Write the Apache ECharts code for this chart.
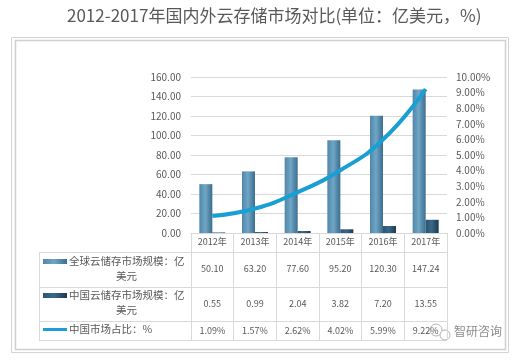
<!DOCTYPE html>
<html>
<head>
<meta charset="utf-8">
<script src="https://cdn.jsdelivr.net/npm/echarts@6/dist/echarts.min.js"></script>
<style>
html,body{margin:0;padding:0;background:#fff;}
#c{width:532px;height:364px;}
</style>
</head>
<body>
<div id="c"></div>
<script>
var years = ['2012年','2013年','2014年','2015年','2016年','2017年'];
var globalMarket = [50.10, 63.20, 77.60, 95.20, 120.30, 147.24];
var chinaMarket = [0.55, 0.99, 2.04, 3.82, 7.20, 13.55];
var chinaShare = [1.09, 1.57, 2.62, 4.02, 5.99, 9.22];
var shareLabels = ['1.09%', '1.57%', '2.62%', '4.02%', '5.99%', '9.22%'];
var legendLine1 = ['全球云储存市场规模：亿', '中国云储存市场规模：亿', '中国市场占比：%'];
var legendLine2 = ['美元', '美元', ''];
var titleText = '2012-2017年国内外云存储市场对比(单位：亿美元，%)';

var FONT = '"Noto Sans CJK SC", "Noto Sans", sans-serif';
var TXT = '#595959';
var GRID = '#d9d9d9';

var globalColor = new echarts.graphic.LinearGradient(0,0,1,0,[
  {offset:0,color:'#4f86aa'},{offset:0.45,color:'#6fa6c6'},{offset:1,color:'#3b6d8e'}]);
var chinaColor = new echarts.graphic.LinearGradient(0,0,1,0,[
  {offset:0,color:'#2c5573'},{offset:0.45,color:'#3a6889'},{offset:1,color:'#1c3a50'}]);
var lineColor = '#1a9fd4';

function valueAxis(offset, fmt) {
  return {
    type: 'category', data: years, position: 'bottom', offset: offset,
    axisLine: {show:false}, axisTick: {show:false},
    axisLabel: {margin: 0, verticalAlign: 'middle', fontSize: 9, color: TXT, fontFamily: FONT,
      formatter: fmt}
  };
}

var chart = echarts.init(document.getElementById('c'));
var option = {
  backgroundColor: '#fff',
  animation: false,
  grid: {left: 191, right: 85, top: 77, bottom: 131},
  xAxis: [
    {
      type: 'category', data: years, position: 'bottom',
      axisLine: {show: true, lineStyle: {color: GRID}},
      axisTick: {show: true, length: 107, lineStyle: {color: GRID}},
      axisLabel: {margin: 4, fontSize: 9, color: TXT, fontFamily: FONT}
    },
    valueAxis(36, function(v, i){ return globalMarket[i].toFixed(2); }),
    valueAxis(71, function(v, i){ return chinaMarket[i].toFixed(2); }),
    valueAxis(98, function(v, i){ return shareLabels[i]; })
  ],
  yAxis: [
    {
      type: 'value', min: 0, max: 160, interval: 20,
      axisLine: {show:false}, axisTick: {show:false},
      axisLabel: {margin: 10, fontSize: 10, color: TXT, fontFamily: FONT,
        formatter: function(v){ return v.toFixed(2); }},
      splitLine: {lineStyle: {color: GRID}}
    },
    {
      type: 'value', min: 0, max: 10, interval: 1,
      axisLine: {show:false}, axisTick: {show:false},
      axisLabel: {margin: 9, fontSize: 10, color: TXT, fontFamily: FONT,
        formatter: function(v){ return v.toFixed(2) + '%'; }},
      splitLine: {show: false}
    }
  ],
  series: [
    {name: 'global', type: 'bar', data: globalMarket, barWidth: 13, barGap: '0%',
      itemStyle: {color: globalColor}},
    {name: 'china', type: 'bar', data: chinaMarket, barWidth: 13, barGap: '0%',
      itemStyle: {color: chinaColor}},
    {name: 'share', type: 'line', yAxisIndex: 1, data: chinaShare, smooth: 0.5,
      showSymbol: false, symbol: 'none', lineStyle: {color: lineColor, width: 4}, z: 5}
  ],
  graphic: [
    {type:'text', left: 67, top: 7, style:{text: titleText, fontSize: 17, fill: TXT, fontFamily: FONT}},
    {type:'rect', shape:{x:11.5,y:37.5,width:497,height:315}, style:{fill:'none', stroke:'#d4d4d4', lineWidth:1}, silent:true},
    {type:'rect', shape:{x:15.5,y:40.5,width:490,height:309}, style:{fill:'none', stroke:'#d0d0d0', lineWidth:1.5}, silent:true},
    // table borders
    {type:'line', shape:{x1:39,y1:252.5,x2:447,y2:252.5}, style:{stroke:GRID,lineWidth:1}},
    {type:'line', shape:{x1:39,y1:287.5,x2:447,y2:287.5}, style:{stroke:GRID,lineWidth:1}},
    {type:'line', shape:{x1:39,y1:321.5,x2:447,y2:321.5}, style:{stroke:GRID,lineWidth:1}},
    {type:'line', shape:{x1:39,y1:340.5,x2:447,y2:340.5}, style:{stroke:GRID,lineWidth:1}},
    {type:'line', shape:{x1:39.5,y1:252,x2:39.5,y2:341}, style:{stroke:GRID,lineWidth:1}},
    // legend row 1
    {type:'rect', shape:{x:43,y:259,width:24,height:5}, style:{fill: globalColor}},
    {type:'text', left: 69, top: 256, style:{text: legendLine1[0], fontSize: 10.5, fill: TXT, fontFamily: FONT}},
    {type:'text', left: 116, top: 271, style:{text: legendLine2[0], fontSize: 10.5, fill: TXT, fontFamily: FONT}},
    // legend row 2
    {type:'rect', shape:{x:43,y:293,width:24,height:5}, style:{fill: chinaColor}},
    {type:'text', left: 69, top: 290, style:{text: legendLine1[1], fontSize: 10.5, fill: TXT, fontFamily: FONT}},
    {type:'text', left: 116, top: 305, style:{text: legendLine2[1], fontSize: 10.5, fill: TXT, fontFamily: FONT}},
    // legend row 3
    {type:'line', shape:{x1:43,y1:329.5,x2:67,y2:329.5}, style:{stroke: lineColor, lineWidth: 3}},
    {type:'text', left: 69, top: 324, style:{text: legendLine1[2], fontSize: 10.5, fill: TXT, fontFamily: FONT}},
    // watermark
    {type:'circle', shape:{cx:436,cy:330,r:6}, style:{fill:'none', stroke:'#b5b5b5', lineWidth:1}},
    {type:'circle', shape:{cx:445,cy:335,r:5}, style:{fill:'#fff', stroke:'#b5b5b5', lineWidth:1}},
    {type:'text', left: 454, top: 325, style:{text:'智研咨询', fontSize: 12, fill: '#8c8c8c', fontFamily: FONT}}
  ]
};
chart.setOption(option);
</script>
</body>
</html>
